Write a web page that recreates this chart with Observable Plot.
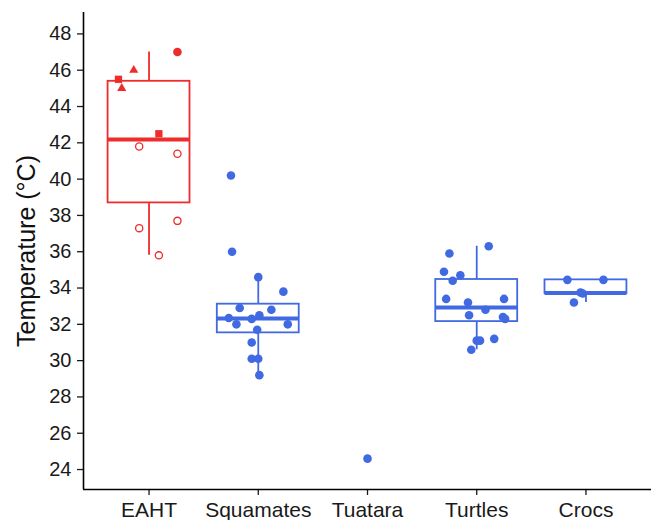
<!DOCTYPE html>
<html>
<head>
<meta charset="utf-8">
<script src="https://cdn.jsdelivr.net/npm/d3@7"></script>
<script src="https://cdn.jsdelivr.net/npm/@observablehq/plot@0.6"></script>
<style>
  html, body { margin: 0; padding: 0; background: #ffffff; }
  #chart svg { display: block; }
</style>
</head>
<body>
<div id="chart"></div>
<script>
// ---- categories & tick labels ----
const categories = ["EAHT", "Squamates", "Tuatara", "Turtles", "Crocs"];
const categoryColors = ["#EE2C2C", "#4169E1", "#4169E1", "#4169E1", "#4169E1"];
const yTicks = [24, 26, 28, 30, 32, 34, 36, 38, 40, 42, 44, 46, 48];
const yTitle = "Temperature (°C)";

// ---- points (temperature, horizontal jitter in category units) ----
const eahtTemp   = [47.0, 46.0, 45.5, 45.0, 42.5, 41.8, 41.4, 37.7, 37.3, 35.8];
const eahtJitter = [0.26, -0.14, -0.28, -0.25, 0.09, -0.09, 0.26, 0.26, -0.09, 0.09];
const eahtShape  = ["circle", "triangle", "square", "triangle", "square", "circle", "circle", "circle", "circle", "circle"];
const eahtFilled = [true, true, true, true, true, false, false, false, false, false];

const squamatesTemp   = [40.2, 36.0, 34.6, 33.8, 32.9, 32.8, 32.35, 32.3, 32.5, 32.0, 32.0, 31.7, 31.0, 30.1, 30.1, 29.2];
const squamatesJitter = [-0.25, -0.24, 0.0, 0.23, -0.17, 0.12, -0.27, -0.06, 0.01, -0.20, 0.27, -0.01, -0.06, -0.06, 0.0, 0.01];

const tuataraTemp   = [24.6];
const tuataraJitter = [0.0];

const turtlesTemp   = [36.3, 35.9, 34.9, 34.7, 34.4, 33.4, 33.4, 33.2, 32.8, 32.5, 32.4, 32.3, 31.2, 31.1, 31.1, 30.6];
const turtlesJitter = [0.11, -0.25, -0.30, -0.15, -0.22, -0.28, 0.25, -0.08, 0.08, -0.07, 0.24, 0.26, 0.16, 0.0, 0.03, -0.05];

const crocsTemp   = [34.45, 34.45, 33.75, 33.7, 33.2];
const crocsJitter = [-0.17, 0.16, -0.05, -0.03, -0.11];

// ---- box plot summaries ----
const boxCategory = ["EAHT", "Squamates", "Turtles", "Crocs"];
const boxLow      = [35.8, 29.2, 30.6, 33.2];
const boxQ1       = [38.69, 31.53, 32.15, 33.70];
const boxMedian   = [42.18, 32.32, 32.93, 33.72];
const boxQ3       = [45.39, 33.11, 34.47, 34.45];
const boxHigh     = [47.0, 34.6, 36.3, 34.45];

// ---- build tables ----
function rows(cat, temps, jitter, shapes, filled) {
  const i = categories.indexOf(cat);
  return temps.map((t, k) => ({
    cat, pos: i + 1 + jitter[k], temp: t,
    shape: shapes ? shapes[k] : "circle",
    filled: filled ? filled[k] : true,
    color: categoryColors[i]
  }));
}
const points = [
  ...rows("EAHT", eahtTemp, eahtJitter, eahtShape, eahtFilled),
  ...rows("Squamates", squamatesTemp, squamatesJitter),
  ...rows("Tuatara", tuataraTemp, tuataraJitter),
  ...rows("Turtles", turtlesTemp, turtlesJitter),
  ...rows("Crocs", crocsTemp, crocsJitter)
];
const boxes = boxCategory.map((c, k) => {
  const i = categories.indexOf(c) + 1;
  return {cat: c, i, lo: boxLow[k], q1: boxQ1[k], med: boxMedian[k], q3: boxQ3[k], hi: boxHigh[k], color: categoryColors[i - 1]};
});
const boxHalf = 0.375;
const xDomain = [0.4, categories.length + 0.6];
const yDomain = [22.9, 49.18];

const filledCircles = points.filter(d => d.filled && d.shape === "circle");
const squares = points.filter(d => d.filled && d.shape === "square");
const triangles = points.filter(d => d.filled && d.shape === "triangle");
const openCircles = points.filter(d => !d.filled);

const chart = Plot.plot({
  width: 654,
  height: 520,
  marginLeft: 83,
  marginRight: 3,
  marginTop: 12,
  marginBottom: 31,
  style: {fontFamily: "'Liberation Sans', Arial, sans-serif", background: "#ffffff", color: "#111"},
  x: {type: "linear", domain: xDomain, axis: null},
  y: {type: "linear", domain: yDomain, axis: null},
  color: {type: "identity"},
  marks: [
    // axes
    Plot.axisY(yTicks, {anchor: "left", tickSize: 6, tickPadding: 6, fontSize: 20, color: "#1a1a1a", strokeWidth: 1.3, label: null}),
    Plot.axisX(d3.range(1, categories.length + 1), {anchor: "bottom", tickFormat: d => categories[d - 1], tickSize: 6, tickPadding: 7, fontSize: 21, color: "#1a1a1a", strokeWidth: 1.3, label: null}),
    Plot.ruleX([xDomain[0]], {stroke: "#000", strokeWidth: 1.6}),
    Plot.ruleY([yDomain[0]], {stroke: "#000", strokeWidth: 1.6}),
    Plot.text([yTitle], {frameAnchor: "left", dx: -57, rotate: -90, fontSize: 25, fill: "#111", textAnchor: "middle", lineAnchor: "middle"}),
    // boxes
    Plot.ruleX(boxes, {x: "i", y1: "q3", y2: "hi", stroke: "color", strokeWidth: 1.8}),
    Plot.ruleX(boxes, {x: "i", y1: "lo", y2: "q1", stroke: "color", strokeWidth: 1.8}),
    Plot.rect(boxes, {x1: d => d.i - boxHalf, x2: d => d.i + boxHalf, y1: "q1", y2: "q3", fill: "white", stroke: "color", strokeWidth: 1.8}),
    Plot.ruleY(boxes, {y: "med", x1: d => d.i - boxHalf, x2: d => d.i + boxHalf, stroke: "color", strokeWidth: 4}),
    // points
    Plot.dot(openCircles, {x: "pos", y: "temp", r: 3.6, fill: "none", stroke: "color", strokeWidth: 1.3}),
    Plot.dot(filledCircles, {x: "pos", y: "temp", r: 4.3, fill: "color", stroke: "none"}),
    Plot.dot(squares, {x: "pos", y: "temp", symbol: "square", r: 4.1, fill: "color", stroke: "none"}),
    Plot.dot(triangles, {x: "pos", y: "temp", symbol: "triangle", r: 3.4, fill: "color", stroke: "none"})
  ]
});
document.getElementById("chart").append(chart);
</script>
</body>
</html>
